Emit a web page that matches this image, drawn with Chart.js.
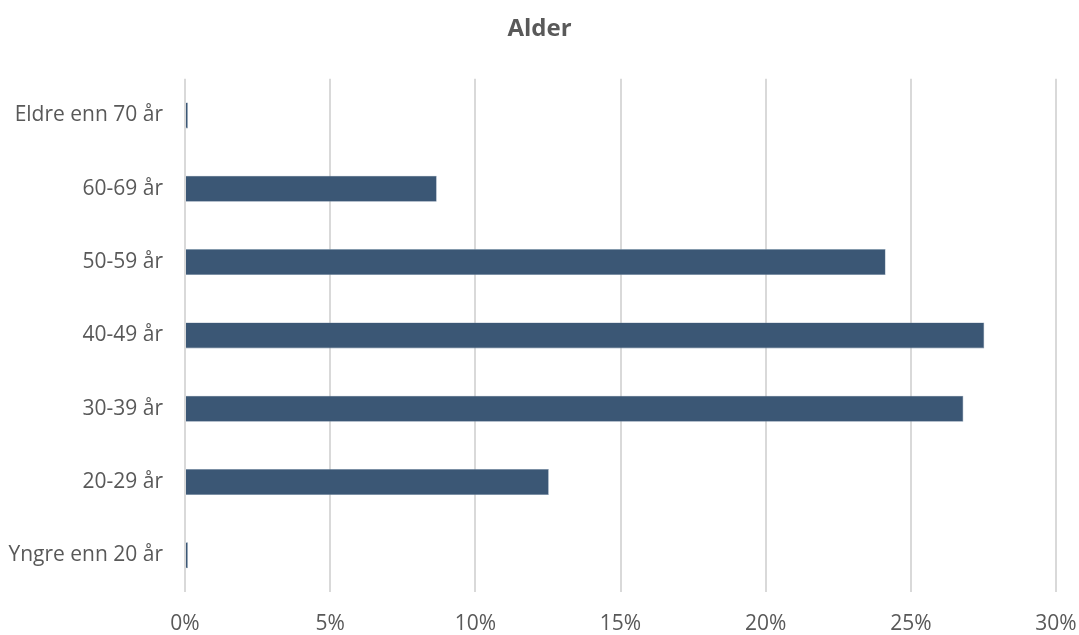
<!DOCTYPE html>
<html>
<head>
<meta charset="utf-8">
<script src="https://cdn.jsdelivr.net/npm/chart.js@4"></script>
<style>
  html, body { margin: 0; padding: 0; background: #fff; }
  #wrap { width: 1079px; height: 635px; }
</style>
</head>
<body>
<div id="wrap"><canvas id="alderChart"></canvas></div>
<script>
// Aldersfordeling, andel i prosent
const categories = ['Eldre enn 70 år', '60-69 år', '50-59 år', '40-49 år', '30-39 år', '20-29 år', 'Yngre enn 20 år'];
const shares = [0.1, 8.67, 24.13, 27.53, 26.81, 12.53, 0.1];
const tickMax = 30;
const tickStep = 5;

const textColor = '#595959';
const fontFamily = '"Open Sans", sans-serif';

const ctx = document.getElementById('alderChart').getContext('2d');
new Chart(ctx, {
  type: 'bar',
  data: {
    labels: categories,
    datasets: [{
      label: 'Alder',
      data: shares,
      backgroundColor: '#3b5775',
      borderColor: '#7f95ab',
      borderWidth: 0.6,
      barPercentage: 0.355,
      categoryPercentage: 1
    }]
  },
  options: {
    indexAxis: 'y',
    responsive: true,
    maintainAspectRatio: false,
    animation: false,
    layout: { padding: { top: 0, right: 0, bottom: 0, left: 0 } },
    plugins: {
      legend: { display: false },
      tooltip: { enabled: false },
      title: {
        display: true,
        text: 'Alder',
        color: textColor,
        font: { family: fontFamily, size: 24, weight: 'bold' },
        padding: { top: 15, bottom: 35 }
      }
    },
    scales: {
      x: {
        min: 0,
        max: tickMax,
        ticks: {
          stepSize: tickStep,
          color: textColor,
          font: { family: fontFamily, size: 21 },
          padding: 19,
          callback: v => v + '%'
        },
        grid: { color: '#d9d9d9', lineWidth: 2, drawTicks: false },
        border: { display: false },
        afterFit: scale => {
          scale.height = 43;
          scale.paddingRight = 23; // room for the last tick label
        }
      },
      y: {
        ticks: {
          color: textColor,
          font: { family: fontFamily, size: 21 },
          padding: 22
        },
        grid: { display: false, drawTicks: false },
        border: { display: false },
        afterFit: scale => { scale.width = 185; }
      }
    }
  }
});
</script>
</body>
</html>
